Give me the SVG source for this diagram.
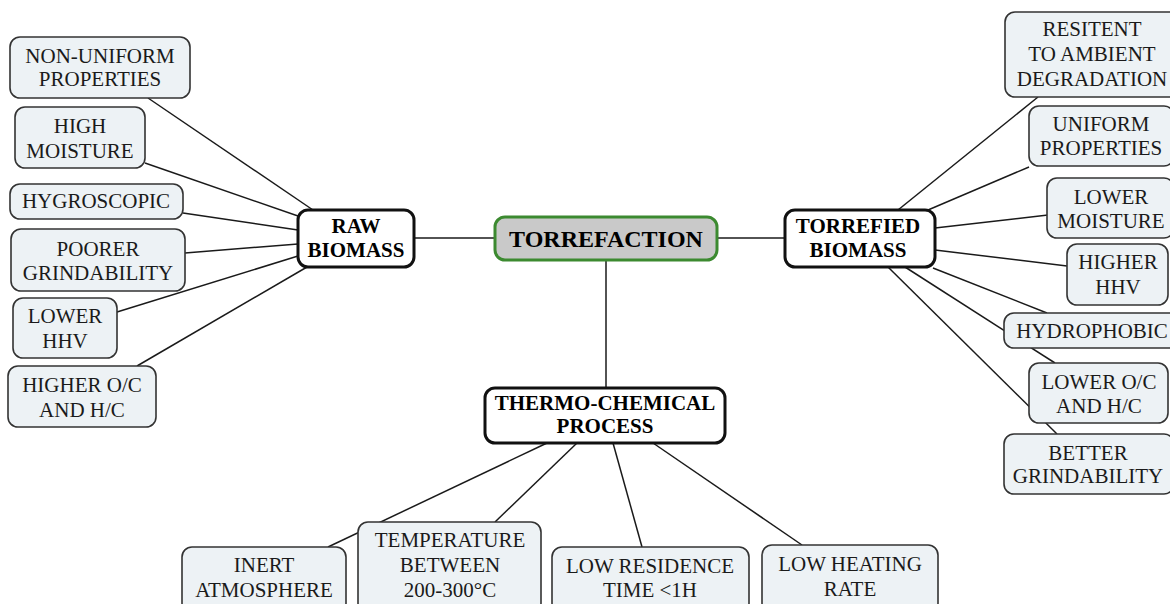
<svg xmlns="http://www.w3.org/2000/svg" width="1170" height="604" viewBox="0 0 1170 604">
<style>
.leaf rect{fill:#edf2f5;stroke:#333;stroke-width:1.6}
.main rect{fill:#fff;stroke:#111;stroke-width:3}
#torrefaction rect{fill:#c9c9c9;stroke:#3c8a30;stroke-width:3}
text{font-family:"Liberation Serif","Times New Roman",serif;text-anchor:middle;fill:#1a1a1a}
.leaf text{font-size:21px}
.main text{font-size:21px;font-weight:bold;fill:#000}
#connectors line{stroke:#1a1a1a;stroke-width:1.5}
</style>
<rect width="1170" height="604" fill="#fff"/>
<g id="connectors">
<line x1="148" y1="98" x2="313" y2="210"/>
<line x1="145" y1="163" x2="298" y2="216"/>
<line x1="183" y1="213" x2="298" y2="230"/>
<line x1="185" y1="253" x2="298" y2="244"/>
<line x1="117" y1="312" x2="298" y2="256"/>
<line x1="137" y1="366" x2="307" y2="267"/>
<line x1="414" y1="238" x2="495" y2="238"/>
<line x1="717" y1="238" x2="785" y2="238"/>
<line x1="606" y1="260" x2="606" y2="388"/>
<line x1="898" y1="210" x2="1038" y2="97"/>
<line x1="928" y1="210" x2="1029" y2="167"/>
<line x1="935" y1="228" x2="1048" y2="215"/>
<line x1="935" y1="250" x2="1067" y2="266"/>
<line x1="933" y1="268" x2="1047" y2="313"/>
<line x1="905" y1="267" x2="1055" y2="363"/>
<line x1="888" y1="267" x2="1057" y2="434"/>
<line x1="547" y1="443" x2="328" y2="547"/>
<line x1="577" y1="443" x2="495" y2="522"/>
<line x1="613" y1="443" x2="642" y2="547"/>
<line x1="653" y1="443" x2="802" y2="545"/>
</g>
<g id="raw-biomass" class="main"><rect x="298" y="210" width="116" height="57" rx="10"/><text x="356" y="233">RAW</text><text x="356" y="257">BIOMASS</text></g>
<g id="torrefaction" class="main"><rect x="495" y="217" width="222" height="43" rx="10"/><text x="606" y="247" style="font-size:24px">TORREFACTION</text></g>
<g id="torrefied-biomass" class="main"><rect x="785" y="210" width="150" height="57" rx="10"/><text x="858" y="233">TORREFIED</text><text x="858" y="257">BIOMASS</text></g>
<g id="thermo-chemical" class="main"><rect x="485" y="388" width="240" height="55" rx="10"/><text x="605" y="410">THERMO-CHEMICAL</text><text x="605" y="433">PROCESS</text></g>
<g id="non-uniform" class="leaf"><rect x="10" y="37" width="180" height="61" rx="10"/><text x="100" y="63">NON-UNIFORM</text><text x="100" y="86">PROPERTIES</text></g>
<g id="high-moisture" class="leaf"><rect x="15" y="107" width="130" height="61" rx="10"/><text x="80" y="133">HIGH</text><text x="80" y="158">MOISTURE</text></g>
<g id="hygroscopic" class="leaf"><rect x="10" y="184" width="173" height="35" rx="10"/><text x="96" y="208">HYGROSCOPIC</text></g>
<g id="poorer-grindability" class="leaf"><rect x="11" y="229" width="174" height="62" rx="10"/><text x="98" y="256">POORER</text><text x="98" y="280">GRINDABILITY</text></g>
<g id="lower-hhv-raw" class="leaf"><rect x="13" y="298" width="104" height="60" rx="10"/><text x="65" y="323">LOWER</text><text x="65" y="348">HHV</text></g>
<g id="higher-oc" class="leaf"><rect x="8" y="366" width="148" height="61" rx="10"/><text x="82" y="392">HIGHER O/C</text><text x="82" y="417">AND H/C</text></g>
<g id="resitent" class="leaf"><rect x="1005" y="12" width="175" height="85" rx="10"/><text x="1092" y="36">RESITENT</text><text x="1092" y="61">TO AMBIENT</text><text x="1092" y="86">DEGRADATION</text></g>
<g id="uniform" class="leaf"><rect x="1029" y="106" width="145" height="60" rx="10"/><text x="1101" y="131">UNIFORM</text><text x="1101" y="155">PROPERTIES</text></g>
<g id="lower-moisture" class="leaf"><rect x="1047" y="178" width="127" height="60" rx="10"/><text x="1111" y="204">LOWER</text><text x="1111" y="228">MOISTURE</text></g>
<g id="higher-hhv" class="leaf"><rect x="1067" y="244" width="101" height="61" rx="10"/><text x="1118" y="269">HIGHER</text><text x="1118" y="294">HHV</text></g>
<g id="hydrophobic" class="leaf"><rect x="1004" y="313" width="176" height="35" rx="10"/><text x="1092" y="338">HYDROPHOBIC</text></g>
<g id="lower-oc" class="leaf"><rect x="1029" y="363" width="139" height="60" rx="10"/><text x="1099" y="389">LOWER O/C</text><text x="1099" y="413">AND H/C</text></g>
<g id="better-grindability" class="leaf"><rect x="1004" y="434" width="170" height="60" rx="10"/><text x="1088" y="460">BETTER</text><text x="1088" y="483">GRINDABILITY</text></g>
<g id="inert" class="leaf"><rect x="182" y="547" width="164" height="66" rx="10"/><text x="264" y="572">INERT</text><text x="264" y="597">ATMOSPHERE</text></g>
<g id="temperature" class="leaf"><rect x="358" y="522" width="183" height="91" rx="10"/><text x="450" y="547">TEMPERATURE</text><text x="450" y="572">BETWEEN</text><text x="450" y="597">200-300°C</text></g>
<g id="residence" class="leaf"><rect x="552" y="547" width="197" height="66" rx="10"/><text x="650" y="573">LOW RESIDENCE</text><text x="650" y="597">TIME &lt;1H</text></g>
<g id="heating" class="leaf"><rect x="762" y="545" width="176" height="68" rx="10"/><text x="850" y="571">LOW HEATING</text><text x="850" y="596">RATE</text></g>
</svg>
